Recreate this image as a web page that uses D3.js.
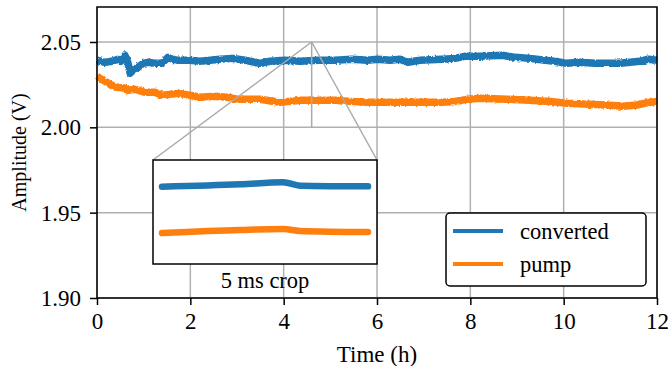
<!DOCTYPE html>
<html>
<head>
<meta charset="utf-8">
<script src="https://cdnjs.cloudflare.com/ajax/libs/d3/7.8.5/d3.min.js"></script>
<style>
  body { margin: 0; background: #fff; }
  text { font-family: "Liberation Serif", "Times New Roman", serif; fill: #000; }
</style>
</head>
<body>
<div id="canvas"></div>
<script>
// hours, volts
const blueT = [0, 0.17, 0.32, 0.45, 0.51, 0.60, 0.66, 0.71, 0.77, 0.88, 0.99, 1.09, 1.24, 1.39, 1.52, 1.61, 1.74, 1.99, 2.21, 2.42, 2.64, 2.91, 3.17, 3.39, 3.49, 3.71, 4.03, 4.35, 4.74, 5.10, 5.46, 5.79, 6.02, 6.28, 6.49, 6.66, 6.92, 7.39, 7.67, 7.88, 8.21, 8.68, 8.96, 9.28, 9.60, 9.81, 10.07, 10.35, 10.67, 10.93, 11.21, 11.42, 11.64, 11.81, 12];
const blueV = [2.0393, 2.0381, 2.0387, 2.0399, 2.0387, 2.0422, 2.0381, 2.0317, 2.0334, 2.0352, 2.0375, 2.0381, 2.0375, 2.0375, 2.0410, 2.0399, 2.0393, 2.0393, 2.0387, 2.0393, 2.0399, 2.0404, 2.0393, 2.0381, 2.0375, 2.0387, 2.0393, 2.0387, 2.0393, 2.0393, 2.0399, 2.0393, 2.0399, 2.0393, 2.0399, 2.0381, 2.0393, 2.0399, 2.0404, 2.0416, 2.0416, 2.0422, 2.0410, 2.0404, 2.0393, 2.0387, 2.0375, 2.0381, 2.0375, 2.0375, 2.0375, 2.0381, 2.0387, 2.0399, 2.0393];

const pumpT = [0, 0.06, 0.17, 0.32, 0.45, 0.60, 0.66, 0.81, 1.03, 1.24, 1.39, 1.56, 1.74, 1.99, 2.21, 2.53, 2.78, 3.06, 3.49, 3.92, 4.35, 4.56, 5.10, 5.42, 5.79, 6.28, 6.92, 7.39, 7.67, 7.93, 8.21, 8.79, 9.28, 9.71, 10.07, 10.56, 10.99, 11.27, 11.53, 11.74, 12];
const pumpV = [2.0299, 2.0287, 2.0270, 2.0246, 2.0234, 2.0229, 2.0217, 2.0223, 2.0205, 2.0205, 2.0188, 2.0193, 2.0199, 2.0188, 2.0176, 2.0182, 2.0176, 2.0164, 2.0164, 2.0147, 2.0158, 2.0158, 2.0158, 2.0152, 2.0147, 2.0147, 2.0147, 2.0147, 2.0152, 2.0164, 2.0170, 2.0164, 2.0158, 2.0152, 2.0141, 2.0135, 2.0129, 2.0123, 2.0129, 2.0141, 2.0152];

// 5 ms crop (ms, volts)
const cropT = [0, 1.9, 2.94, 3.35, 5];
const cropBlue = [2.0396, 2.0409, 2.0420, 2.0402, 2.0398];
const cropPump = [2.0147, 2.0163, 2.0168, 2.0158, 2.0152];

const xTicks = [0, 2, 4, 6, 8, 10, 12];
const yTicks = [1.90, 1.95, 2.00, 2.05];
const seriesNames = ["converted", "pump"];
const colors = ["#1f77b4", "#ff7f0e"];
const cropAt = 4.6;

const W = 668, H = 366;
const m = {left: 97, right: 11, top: 7, bottom: 68};

const svg = d3.select("#canvas").append("svg")
    .attr("width", W)
    .attr("height", H);

// rough edge for the noisy traces
const filt = svg.append("defs").append("filter").attr("id", "rough")
    .attr("x", "-5%").attr("y", "-50%").attr("width", "110%").attr("height", "200%");
filt.append("feTurbulence").attr("type", "fractalNoise")
    .attr("baseFrequency", "0.4 0.5").attr("numOctaves", 2).attr("seed", 3).attr("result", "n");
filt.append("feDisplacementMap").attr("in", "SourceGraphic").attr("in2", "n")
    .attr("scale", 3).attr("xChannelSelector", "R").attr("yChannelSelector", "G");

const x = d3.scaleLinear().domain([0, 12]).range([m.left, W - m.right]);
const y = d3.scaleLinear().domain([1.90, 2.0705]).range([H - m.bottom, m.top]);

// grid
svg.append("g").selectAll("line").data(xTicks).join("line")
    .attr("x1", d => x(d)).attr("x2", d => x(d))
    .attr("y1", y.range()[0]).attr("y2", y.range()[1])
    .attr("stroke", "#b0b0b0").attr("stroke-width", 1.5);
svg.append("g").selectAll("line").data(yTicks).join("line")
    .attr("x1", x.range()[0]).attr("x2", x.range()[1])
    .attr("y1", d => y(d)).attr("y2", d => y(d))
    .attr("stroke", "#b0b0b0").attr("stroke-width", 1.5);

const line = d3.line().x(d => x(d[0])).y(d => y(d[1]));

svg.append("path")
    .datum(blueT.map((t, i) => [t, blueV[i]]))
    .attr("d", line)
    .attr("fill", "none").attr("stroke", colors[0])
    .attr("stroke-width", 7.5).attr("stroke-linejoin", "round")
    .attr("filter", "url(#rough)");

svg.append("path")
    .datum(pumpT.map((t, i) => [t, pumpV[i]]))
    .attr("d", line)
    .attr("fill", "none").attr("stroke", colors[1])
    .attr("stroke-width", 7.5).attr("stroke-linejoin", "round")
    .attr("filter", "url(#rough)");

// inset
const inset = {x0: 153, x1: 377, y0: 160, y1: 264};
const ix = d3.scaleLinear().domain([0, 5]).range([162, 368]);
const iy = d3.scaleLinear().domain([1.998, 2.054]).range([inset.y1, inset.y0]);

// indicator lines
const g = svg.append("g").attr("stroke", "#aaaaaa").attr("stroke-width", 1.5);
g.append("line")
    .attr("x1", x(cropAt)).attr("x2", x(cropAt))
    .attr("y1", y(2.00)).attr("y2", y(2.05));
g.append("line")
    .attr("x1", x(cropAt)).attr("y1", y(2.05))
    .attr("x2", inset.x0).attr("y2", inset.y0);
g.append("line")
    .attr("x1", x(cropAt)).attr("y1", y(2.05))
    .attr("x2", inset.x1).attr("y2", inset.y0);

svg.append("rect")
    .attr("x", inset.x0).attr("y", inset.y0)
    .attr("width", inset.x1 - inset.x0).attr("height", inset.y1 - inset.y0)
    .attr("fill", "#fff").attr("stroke", "#000").attr("stroke-width", 1.5);

[cropBlue, cropPump].forEach((vals, k) => {
    svg.append("path")
        .datum(cropT.map((t, i) => [t, vals[i]]))
        .attr("d", d3.line().curve(d3.curveMonotoneX).x(d => ix(d[0])).y(d => iy(d[1])))
        .attr("fill", "none").attr("stroke", colors[k])
        .attr("stroke-width", 6.5).attr("stroke-linecap", "round");
});

svg.append("text")
    .attr("x", (inset.x0 + inset.x1) / 2).attr("y", 288)
    .attr("text-anchor", "middle")
    .style("font-size", "22.5px")
    .text("5 ms crop");

// frame
svg.append("rect")
    .attr("x", m.left).attr("y", m.top)
    .attr("width", W - m.left - m.right).attr("height", H - m.top - m.bottom)
    .attr("fill", "none").attr("stroke", "#000").attr("stroke-width", 1.5);

// axes
const xAxis = svg.append("g")
    .attr("transform", `translate(0,${H - m.bottom})`)
    .call(d3.axisBottom(x).tickValues(xTicks).tickFormat(d3.format("d")).tickSize(7).tickPadding(8));
const yAxis = svg.append("g")
    .attr("transform", `translate(${m.left},0)`)
    .call(d3.axisLeft(y).tickValues(yTicks).tickFormat(d3.format(".2f")).tickSize(7).tickPadding(9));
[xAxis, yAxis].forEach(a => {
    a.select(".domain").remove();
    a.selectAll("line").attr("stroke", "#000").attr("stroke-width", 1.5);
    a.selectAll("text").style("font-size", "23px")
        .style("font-family", "Liberation Serif, serif");
});

svg.append("text")
    .attr("x", (m.left + W - m.right) / 2).attr("y", 362)
    .attr("text-anchor", "middle")
    .style("font-size", "23px")
    .text("Time (h)");

svg.append("text")
    .attr("transform", `translate(26,${(m.top + H - m.bottom) / 2}) rotate(-90)`)
    .attr("text-anchor", "middle")
    .style("font-size", "20px")
    .text("Amplitude (V)");

// legend
const leg = svg.append("g");
leg.append("rect")
    .attr("x", 446).attr("y", 213).attr("width", 200).attr("height", 73)
    .attr("rx", 4)
    .attr("fill", "#fff").attr("stroke", "#000").attr("stroke-width", 1.5);
seriesNames.forEach((name, i) => {
    const cy = 231 + i * 33;
    leg.append("line")
        .attr("x1", 453).attr("x2", 503).attr("y1", cy).attr("y2", cy)
        .attr("stroke", colors[i]).attr("stroke-width", 4);
    leg.append("text")
        .attr("x", 520).attr("y", cy + 8)
        .style("font-size", "22.5px")
        .text(name);
});
</script>
</body>
</html>
